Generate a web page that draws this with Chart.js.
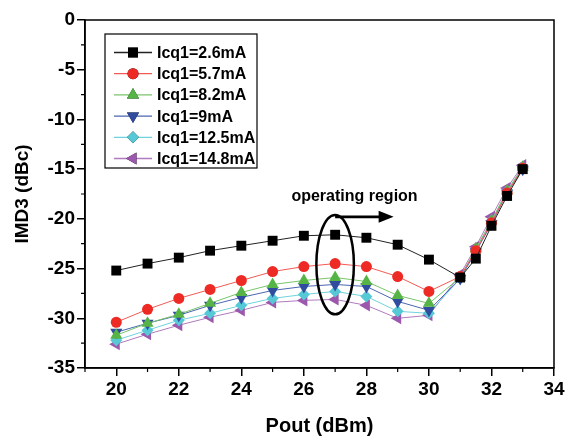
<!DOCTYPE html>
<html><head><meta charset="utf-8">
<script src="https://cdn.jsdelivr.net/npm/chart.js@4/dist/chart.umd.min.js"></script>
<style>html,body{margin:0;padding:0;background:#fff}</style>
</head><body>
<canvas id="c" width="567" height="439"></canvas>
<script>
// Data
const pout = [20,21,22,23,24,25,26,27,28,29,30,31,31.5,32,32.5,33];
const icq_2_6  = [-25.2,-24.5,-23.9,-23.2,-22.7,-22.2,-21.7,-21.6,-21.9,-22.6,-24.1,-25.9,-24.0,-20.7,-17.7,-15.0];
const icq_5_7  = [-30.4,-29.1,-28.0,-27.1,-26.2,-25.3,-24.8,-24.5,-24.8,-25.8,-27.3,-25.8,-23.2,-20.4,-17.4,-14.9];
const icq_8_2  = [-31.7,-30.5,-29.6,-28.5,-27.4,-26.6,-26.2,-25.9,-26.3,-27.7,-28.5,-25.9,-23.0,-20.2,-17.2,-14.8];
const icq_9    = [-31.4,-30.5,-29.7,-28.7,-27.9,-27.2,-26.8,-26.6,-26.8,-28.3,-29.2,-26.0,-23.3,-20.5,-17.4,-15.0];
const icq_12_5 = [-32.2,-31.2,-30.2,-29.5,-28.7,-28.0,-27.6,-27.3,-27.8,-29.3,-29.5,-26.0,-23.1,-20.2,-17.2,-14.8];
const icq_14_8 = [-32.6,-31.6,-30.7,-29.9,-29.2,-28.4,-28.2,-28.1,-28.7,-30.0,-29.7,-25.6,-22.8,-19.8,-16.9,-14.6];
const seriesLabels = ['Icq1=2.6mA','Icq1=5.7mA','Icq1=8.2mA','Icq1=9mA','Icq1=12.5mA','Icq1=14.8mA'];
const xTickLabels = [20,22,24,26,28,30,32,34];
const yTickLabels = [0,-5,-10,-15,-20,-25,-30,-35];
const annotationText = 'operating region';

const FONT = '"Liberation Sans", Arial, sans-serif';
const styles = [
  {color:'#000000', line:'#222222', shape:'rect', r:7, rot:0},
  {color:'#ee2a24', line:'#f25a55', shape:'circle', r:5.5, rot:0},
  {color:'#56b447', line:'#78c46a', shape:'triangle', r:7, rot:0},
  {color:'#2f4c9e', line:'#4a66b0', shape:'triangle', r:7, rot:180},
  {color:'#56c8d6', line:'#70d2de', shape:'rectRot', r:6, rot:0},
  {color:'#9c58ac', line:'#b07abe', shape:'triangle', r:7, rot:-90}
];
const allSeries = [icq_2_6, icq_5_7, icq_8_2, icq_9, icq_12_5, icq_14_8];

const datasets = allSeries.map((s,i)=>({
  label: seriesLabels[i],
  data: pout.map((x,j)=>({x:x, y:s[j]})),
  borderColor: styles[i].line,
  backgroundColor: styles[i].color,
  borderWidth: 1,
  pointStyle: styles[i].shape,
  pointRadius: styles[i].r,
  pointRotation: styles[i].rot,
  pointBackgroundColor: styles[i].color,
  pointBorderColor: styles[i].color,
  pointBorderWidth: 0,
  tension: 0
}));

const framePlugin = {
  id: 'frame',
  afterDraw(chart) {
    const ctx = chart.ctx, a = chart.chartArea;
    const xs = chart.scales.x, ys = chart.scales.y;
    ctx.save();
    ctx.strokeStyle = '#000';
    ctx.lineWidth = 1.5;
    ctx.strokeRect(a.left, a.top, a.right - a.left, a.bottom - a.top);
    // minor ticks
    ctx.lineWidth = 1.2;
    ctx.beginPath();
    for (let v = 19; v <= 33; v += 2) {
      const px = xs.getPixelForValue(v);
      ctx.moveTo(px, a.bottom); ctx.lineTo(px, a.bottom + 4);
    }
    for (let v = -32.5; v < 0; v += 5) {
      const py = ys.getPixelForValue(v);
      ctx.moveTo(a.left, py); ctx.lineTo(a.left - 4, py);
    }
    ctx.stroke();

    // annotation: ellipse, arrow, text
    const cx = xs.getPixelForValue(27), cy = ys.getPixelForValue(-24.6);
    const rx = xs.getPixelForValue(27.6) - cx;
    const ry = ys.getPixelForValue(-29.6) - cy;
    ctx.lineWidth = 2.5;
    ctx.beginPath();
    ctx.ellipse(cx, cy, rx, ry, 0, 0, Math.PI * 2);
    ctx.stroke();
    const ay = ys.getPixelForValue(-19.8);
    const ax0 = xs.getPixelForValue(27);
    const ax1 = xs.getPixelForValue(28.87);
    ctx.lineWidth = 2.8;
    ctx.beginPath();
    ctx.moveTo(ax0, ay); ctx.lineTo(ax1 - 12, ay);
    ctx.stroke();
    ctx.fillStyle = '#000';
    ctx.beginPath();
    ctx.moveTo(ax1, ay); ctx.lineTo(ax1 - 15, ay - 6); ctx.lineTo(ax1 - 15, ay + 6);
    ctx.closePath(); ctx.fill();
    ctx.font = 'bold 16px ' + FONT;
    ctx.textAlign = 'center'; ctx.textBaseline = 'middle';
    ctx.fillText(annotationText, xs.getPixelForValue(27.62), ys.getPixelForValue(-17.8));

    // legend box
    const bx = 105, by = 34, bw = 152, bh = 134;
    ctx.lineWidth = 1.2;
    ctx.strokeRect(bx, by, bw, bh);
    ctx.font = 'bold 16px ' + FONT;
    ctx.textAlign = 'left';
    chart.data.datasets.forEach((d, i) => {
      const yy = 52.5 + i * 21.2;
      ctx.strokeStyle = d.borderColor;
      ctx.lineWidth = 1.3;
      ctx.beginPath(); ctx.moveTo(114, yy); ctx.lineTo(152, yy); ctx.stroke();
      Chart.helpers.drawPoint(ctx, {pointStyle: d.pointStyle, radius: d.pointRadius, rotation: d.pointRotation, borderWidth: 0}, 133, yy);
      ctx.fillStyle = d.backgroundColor;
      ctx.beginPath();
      ctx.save();
      ctx.fillStyle = d.pointBackgroundColor;
      ctx.strokeStyle = d.pointBackgroundColor;
      Chart.helpers.drawPoint(ctx, {pointStyle: d.pointStyle, radius: d.pointRadius, rotation: d.pointRotation, borderWidth: 0}, 133, yy);
      ctx.restore();
      ctx.fillStyle = '#000';
      ctx.fillText(d.label, 157, yy + 1);
    });
    ctx.restore();
  }
};

new Chart(document.getElementById('c'), {
  type: 'line',
  data: { datasets },
  plugins: [framePlugin],
  options: {
    responsive: false,
    animation: false,
    devicePixelRatio: 1,
    layout: { padding: { top: 20, right: 13, left: 0, bottom: 0 } },
    plugins: { legend: { display: false }, tooltip: { enabled: false } },
    scales: {
      x: {
        type: 'linear', min: 19, max: 34,
        afterBuildTicks: s => { s.ticks = xTickLabels.map(v => ({value: v})); },
        afterFit: s => { s.height = 71; },
        grid: { drawOnChartArea: false, drawTicks: true, tickLength: 8, color: '#000', lineWidth: 1.5 },
        border: { display: true, color: '#000', width: 1.5 },
        ticks: { color: '#000', font: { family: FONT, size: 19, weight: 'bold' }, padding: 2, maxRotation: 0 },
        title: { display: true, text: 'Pout (dBm)', color: '#000', font: { family: FONT, size: 20, weight: 'bold' }, padding: { top: 0, bottom: 1 } }
      },
      y: {
        type: 'linear', min: -35, max: 0,
        afterBuildTicks: s => { s.ticks = yTickLabels.map(v => ({value: v})); },
        afterFit: s => { s.width = 85; },
        grid: { drawOnChartArea: false, drawTicks: true, tickLength: 8, color: '#000', lineWidth: 1.5 },
        border: { display: true, color: '#000', width: 1.5 },
        ticks: { color: '#000', font: { family: FONT, size: 19, weight: 'bold' }, padding: 2 },
        title: { display: true, text: 'IMD3 (dBc)', color: '#000', font: { family: FONT, size: 19, weight: 'bold' }, padding: { top: 11, bottom: 0 } }
      }
    }
  }
});
</script>
</body></html>
